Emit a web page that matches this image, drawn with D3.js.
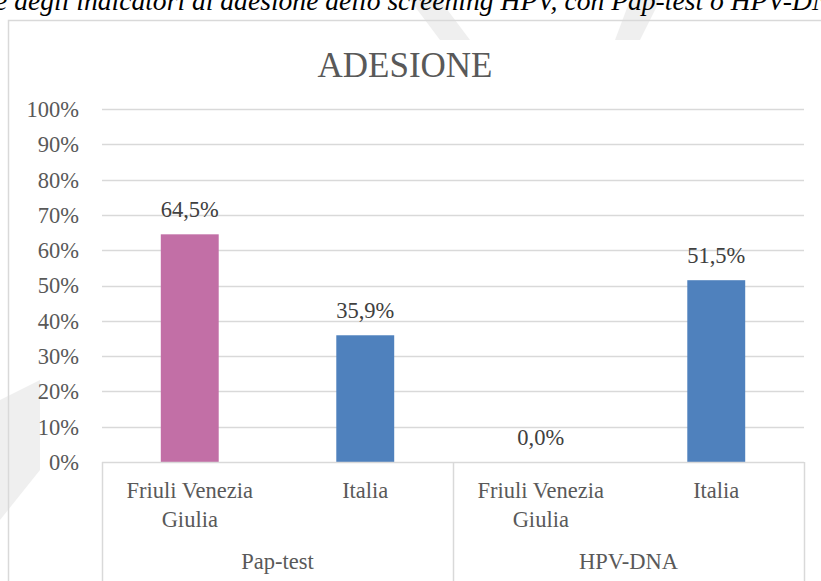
<!DOCTYPE html>
<html>
<head>
<meta charset="utf-8">
<script src="https://cdn.jsdelivr.net/npm/d3@7"></script>
<style>
  html, body { margin: 0; padding: 0; background: #fff; }
  svg { display: block; }
</style>
</head>
<body>
<svg id="chart" width="821" height="581"></svg>
<script>
// ---- data ----
const title = "ADESIONE";
const caption = "e degli indicatori di adesione dello screening HPV, con Pap-test o HPV-DNA";
const groups = ["Pap-test", "HPV-DNA"];
const groupOf = ["Pap-test", "Pap-test", "HPV-DNA", "HPV-DNA"];
const regions = ["Friuli Venezia Giulia", "Italia", "Friuli Venezia Giulia", "Italia"];
const values = [64.5, 35.9, 0.0, 51.5];
const valueLabels = ["64,5%", "35,9%", "0,0%", "51,5%"];
const yTicks = [0, 10, 20, 30, 40, 50, 60, 70, 80, 90, 100];

// ---- layout ----
const W = 821, H = 581;
const plot = { left: 102, right: 804, top: 109, bottom: 462 };
const textColor = "#595959";
const gridColor = "#d9d9d9";
const font = "'Liberation Serif', 'Times New Roman', serif";

const svg = d3.select("#chart");

// watermark strokes (faint)
const wm = svg.append("g").attr("fill", "#efefef");
wm.append("path").attr("d", "M0,400 L40,380 L40,470 L0,520 Z");
wm.append("path").attr("d", "M410,0 L440,0 L470,40 L440,40 Z");
wm.append("path").attr("d", "M630,0 L660,0 L640,40 L615,40 Z");

// caption (cut off at top, as in the source page)
svg.append("text")
  .attr("x", -5).attr("y", 10)
  .attr("font-family", font).attr("font-style", "italic")
  .attr("font-size", 27.6).attr("fill", "#000")
  .text(caption);

// chart area border
svg.append("rect")
  .attr("x", 8.5).attr("y", 20.5).attr("width", 830).attr("height", 600)
  .attr("fill", "none").attr("stroke", gridColor).attr("stroke-width", 1.5);

// scales
const x = d3.scaleBand().domain(d3.range(values.length)).range([plot.left, plot.right]).padding(0);
const xg = d3.scaleBand().domain(groups).range([plot.left, plot.right]).padding(0);
const y = d3.scaleLinear().domain([0, 100]).range([plot.bottom, plot.top]);
const color = d3.scaleOrdinal().domain(["Friuli Venezia Giulia", "Italia"]).range(["#C26FA6", "#4F81BD"]);

// gridlines
svg.append("g").selectAll("line").data(yTicks.filter(t => t > 0)).join("line")
  .attr("x1", plot.left).attr("x2", plot.right)
  .attr("y1", d => Math.round(y(d)) + 0.5).attr("y2", d => Math.round(y(d)) + 0.5)
  .attr("stroke", gridColor).attr("stroke-width", 1.5);

// y axis labels
const yAxis = d3.axisLeft(y).tickValues(yTicks).tickFormat(d => d + "%").tickSize(0).tickPadding(0);
const yg = svg.append("g").attr("transform", "translate(79,0)").call(yAxis);
yg.select(".domain").remove();
yg.selectAll("text")
  .attr("font-family", font).attr("font-size", 22.5).attr("fill", textColor).attr("dy", "0.33em");

// bars
const barW = x.bandwidth() * 0.33;
svg.append("g").selectAll("rect").data(values).join("rect")
  .attr("x", (d, i) => x(i) + x.bandwidth() / 2 - barW / 2)
  .attr("width", barW)
  .attr("y", d => y(d))
  .attr("height", d => y(0) - y(d))
  .attr("fill", (d, i) => color(regions[i]));

// data labels
svg.append("g").selectAll("text").data(values).join("text")
  .attr("x", (d, i) => x(i) + x.bandwidth() / 2)
  .attr("y", d => y(d) - 17)
  .attr("text-anchor", "middle")
  .attr("font-family", font).attr("font-size", 22.5).attr("fill", "#404040")
  .text((d, i) => valueLabels[i]);

// category axis lines
const ax = svg.append("g").attr("stroke", gridColor).attr("stroke-width", 1.5);
ax.append("line").attr("x1", plot.left).attr("x2", plot.right)
  .attr("y1", plot.bottom + 0.5).attr("y2", plot.bottom + 0.5);
const seps = [xg(groups[0]), xg(groups[1]), xg(groups[1]) + xg.bandwidth()];
ax.selectAll("line.sep").data(seps).join("line").attr("class", "sep")
  .attr("x1", d => Math.round(d) + 0.5).attr("x2", d => Math.round(d) + 0.5)
  .attr("y1", plot.bottom).attr("y2", H);

// category labels (wrapped)
function wrapLabel(s) {
  const k = s.lastIndexOf(" ");
  return s.length > 12 && k > 0 ? [s.slice(0, k), s.slice(k + 1)] : [s];
}
const cl = svg.append("g").selectAll("text").data(regions).join("text")
  .attr("text-anchor", "middle")
  .attr("font-family", font).attr("font-size", 22.5).attr("fill", textColor);
cl.each(function (d, i) {
  const t = d3.select(this);
  wrapLabel(d).forEach((line, j) => {
    t.append("tspan").attr("x", x(i) + x.bandwidth() / 2).attr("y", 498 + j * 29).text(line);
  });
});

// group labels
svg.append("g").selectAll("text").data(groups).join("text")
  .attr("x", d => xg(d) + xg.bandwidth() / 2)
  .attr("y", 569)
  .attr("text-anchor", "middle")
  .attr("font-family", font).attr("font-size", 22.5).attr("fill", textColor)
  .text(d => d);

// title
svg.append("text")
  .attr("x", 405).attr("y", 77)
  .attr("text-anchor", "middle")
  .attr("font-family", font).attr("font-size", 35).attr("fill", textColor)
  .text(title);
</script>
</body>
</html>
